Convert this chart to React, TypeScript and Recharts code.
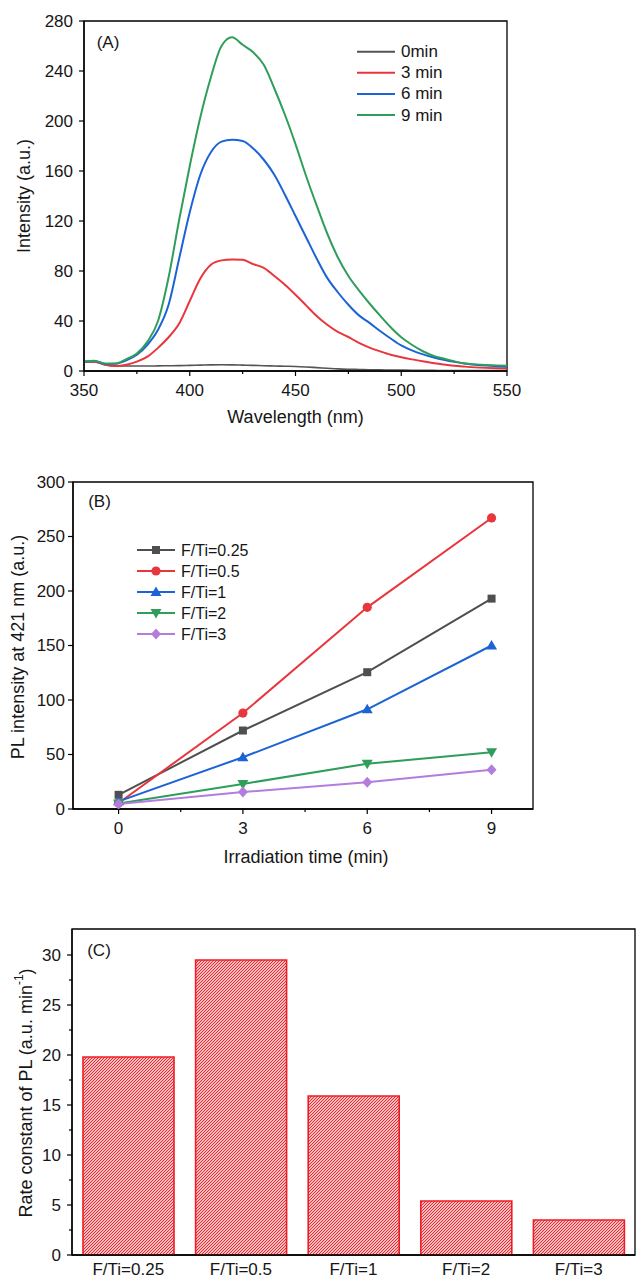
import React from 'react'
import { LineChart, Line, BarChart, Bar, XAxis, YAxis, Legend, Label, ReferenceArea } from 'recharts'

const FONT = '"Liberation Sans", Arial, Helvetica, sans-serif'
const INK = '#161616'
const AXIS = { stroke: '#000', strokeWidth: 1.3 }

// (A) PL spectra, every 5 nm
const wavelengths = [
  350, 355, 360, 365, 370, 375, 380, 385, 390, 395, 400, 405, 410, 415, 420, 425, 430, 435, 440, 445, 450,
  455, 460, 465, 470, 475, 480, 485, 490, 495, 500, 505, 510, 515, 520, 525, 530, 535, 540, 545, 550,
]
const pl0min = [
  7, 7.5, 5, 4, 4, 4, 4, 4.1, 4.2, 4.3, 4.5, 4.7, 4.9, 5, 4.9, 4.7, 4.5, 4.2, 4, 3.8, 3.6,
  3.2, 2.7, 2.2, 1.7, 1.4, 1.2, 1, 0.9, 0.8, 0.7, 0.6, 0.5, 0.5, 0.4, 0.4, 0.4, 0.3, 0.3, 0.3, 0.3,
]
const pl3min = [
  7.5, 7.5, 5, 4, 5, 7.5, 11.5, 18.5, 27, 38, 56, 74, 85, 88.5, 89.3, 89, 85.5, 82.5, 76, 69, 61,
  52.5, 44, 37, 31.3, 27.2, 22.5, 18.7, 15.7, 13, 11, 9.3, 7.8, 6.4, 5.2, 4.2, 3.5, 2.9, 2.5, 2.2, 2,
]
const pl6min = [
  7.5, 8, 5.6, 5.8, 8.5, 13, 21, 33, 53, 90, 127, 157, 175, 183.5, 185, 184, 178, 169, 157, 141, 124,
  107, 90, 74.5, 63, 53, 44.5, 38.5, 32, 26, 20.5, 16.5, 13.5, 11, 9, 7.3, 6, 5, 4.3, 3.8, 3.4,
]
const pl9min = [
  7.5, 8.3, 6, 6, 9.5, 14, 23.5, 40, 75, 121, 164, 203, 235, 260, 267, 261, 255, 245, 226, 205, 181.5,
  156, 132.5, 110, 91, 76, 64.5, 54, 44.3, 35, 27, 21, 16, 12.3, 10, 7.8, 6, 5.3, 4.8, 4.5, 4.2,
]
const spectrumNames = ['0min', '3 min', '6 min', '9 min']
const spectrumColors = ['#555555', '#e8363d', '#1c63d5', '#2f9e5b']
const spectrumKeys = ['t0', 't3', 't6', 't9']
const wavelengthTicks = [350, 375, 400, 425, 450, 475, 500, 525, 550]
const wavelengthMajors = [350, 400, 450, 500, 550]
const intensityTicks = [0, 40, 80, 120, 160, 200, 240, 280]

// (B) PL intensity at 421 nm vs time
const irradiationTimes = [0, 3, 6, 9]
const ratioNames = ['F/Ti=0.25', 'F/Ti=0.5', 'F/Ti=1', 'F/Ti=2', 'F/Ti=3']
const plRatio025 = [13, 72, 125.5, 193]
const plRatio05 = [5.5, 88, 185, 267]
const plRatio1 = [7, 47.5, 91.5, 150]
const plRatio2 = [5, 23, 41.5, 52]
const plRatio3 = [4.5, 15.5, 24.5, 36]
const ratioColors = ['#4f4f4f', '#e8363d', '#1c63d5', '#2f9e5b', '#b27ddf']
const ratioShapes = ['square', 'circle', 'triangle', 'triangleDown', 'diamond']
const ratioKeys = ['r025', 'r05', 'r1', 'r2', 'r3']
const timeTicks = [0, 1.5, 3, 4.5, 6, 7.5, 9]
const timeMajors = [0, 3, 6, 9]
const plTicks = [0, 50, 100, 150, 200, 250, 300]

// (C) rate constants
const rateConstants = [19.8, 29.5, 15.9, 5.4, 3.5]
const rateTicks = [0, 2.5, 5, 7.5, 10, 12.5, 15, 17.5, 20, 22.5, 25, 27.5, 30]
const rateMajors = [0, 5, 10, 15, 20, 25, 30]

const spectrumData = wavelengths.map((w, i) => ({
  w,
  t0: pl0min[i],
  t3: pl3min[i],
  t6: pl6min[i],
  t9: pl9min[i],
}))

const timeData = irradiationTimes.map((t, i) => ({
  t,
  r025: plRatio025[i],
  r05: plRatio05[i],
  r1: plRatio1[i],
  r2: plRatio2[i],
  r3: plRatio3[i],
}))

const rateData = ratioNames.map((name, i) => ({ name, k: rateConstants[i] }))

function bottomTick(majors: number[] | null, gap: number) {
  return function BottomTick(props: any) {
    const { x, y, payload } = props
    const major = !majors || majors.includes(payload.value)
    return (
      <g>
        {majors && (
          <line x1={x} x2={x} y1={y} y2={y + (major ? 5 : 3)} stroke="#000" strokeWidth={1.2} />
        )}
        {major && (
          <text x={x} y={y + gap} textAnchor="middle" dominantBaseline="central"
            fontSize={17} fontFamily={FONT} fill={INK}>
            {payload.value}
          </text>
        )}
      </g>
    )
  }
}

function leftTick(majors: number[], gap: number) {
  return function LeftTick(props: any) {
    const { x, y, payload } = props
    const major = majors.includes(payload.value)
    return (
      <g>
        <line x1={x} x2={x - (major ? 5 : 3)} y1={y} y2={y} stroke="#000" strokeWidth={1.2} />
        {major && (
          <text x={x - gap} y={y} textAnchor="end" dominantBaseline="central"
            fontSize={17} fontFamily={FONT} fill={INK}>
            {payload.value}
          </text>
        )}
      </g>
    )
  }
}

function plainText(x: number, y: number, text: React.ReactNode, size = 18) {
  return () => (
    <text x={x} y={y} textAnchor="middle" dominantBaseline="central" fontSize={size}
      fontFamily={FONT} fill={INK}>
      {text}
    </text>
  )
}

function verticalText(x: number, y: number, text: React.ReactNode, size = 18) {
  return () => (
    <text x={x} y={y} transform={`rotate(-90 ${x} ${y})`} textAnchor="middle"
      dominantBaseline="central" fontSize={size} fontFamily={FONT} fill={INK}>
      {text}
    </text>
  )
}

function Marker({ shape, cx, cy, color }: { shape: string; cx: number; cy: number; color: string }) {
  if (shape === 'square') return <rect x={cx - 4} y={cy - 4} width={8} height={8} fill={color} />
  if (shape === 'circle') return <circle cx={cx} cy={cy} r={4.6} fill={color} />
  if (shape === 'triangle')
    return <polygon points={`${cx},${cy - 5.5} ${cx + 5.5},${cy + 4} ${cx - 5.5},${cy + 4}`} fill={color} />
  if (shape === 'triangleDown')
    return <polygon points={`${cx},${cy + 5.5} ${cx + 5.5},${cy - 4} ${cx - 5.5},${cy - 4}`} fill={color} />
  return <polygon points={`${cx},${cy - 5.5} ${cx + 5},${cy} ${cx},${cy + 5.5} ${cx - 5},${cy}`} fill={color} />
}

function SpectrumLegend() {
  return (
    <svg width={120} height={95}>
      {spectrumNames.map((name, i) => {
        const y = 13.7 + i * 21.1
        return (
          <g key={name}>
            <line x1={7} x2={45} y1={y} y2={y} stroke={spectrumColors[i]} strokeWidth={2} />
            <text x={51} y={y} dominantBaseline="central" fontSize={17} fontFamily={FONT} fill={INK}>
              {name}
            </text>
          </g>
        )
      })}
    </svg>
  )
}

function RatioLegend() {
  return (
    <svg width={140} height={110}>
      {ratioNames.map((name, i) => {
        const y = 10 + i * 21
        return (
          <g key={name}>
            <line x1={7} x2={45} y1={y} y2={y} stroke={ratioColors[i]} strokeWidth={2} />
            <Marker shape={ratioShapes[i]} cx={26} cy={y} color={ratioColors[i]} />
            <text x={51} y={y} dominantBaseline="central" fontSize={16} fontFamily={FONT} fill={INK}>
              {name}
            </text>
          </g>
        )
      })}
    </svg>
  )
}

function SpectraChart() {
  return (
    <LineChart width={637} height={440} data={spectrumData}
      margin={{ top: 21, right: 130, bottom: 29, left: 24 }}>
      <XAxis dataKey="w" type="number" domain={[350, 550]} allowDataOverflow ticks={wavelengthTicks}
        interval={0} height={40} tickSize={0} tickMargin={0} tickLine={false} axisLine={AXIS}
        tick={bottomTick(wavelengthMajors, 19.7)}>
        <Label content={plainText(295.5, 416.7, 'Wavelength (nm)')} />
      </XAxis>
      <YAxis domain={[0, 280]} allowDataOverflow ticks={intensityTicks} interval={0} width={60}
        tickSize={0} tickMargin={0} tickLine={false} axisLine={AXIS} tick={leftTick(intensityTicks, 11)}>
        <Label content={verticalText(23.6, 196, 'Intensity (a.u.)')} />
      </YAxis>
      <ReferenceArea y1={0} y2={280} fill="none" stroke="#000" strokeWidth={1.3}>
        <Label content={plainText(108, 42.3, '(A)', 17)} />
      </ReferenceArea>
      {spectrumKeys.map((k, i) => (
        <Line key={k} dataKey={k} type="monotone" stroke={spectrumColors[i]}
          strokeWidth={i === 0 ? 1.6 : 2} dot={false} isAnimationActive={false} />
      ))}
      <Legend layout="vertical" align="center" verticalAlign="middle" content={() => <SpectrumLegend />}
        wrapperStyle={{ left: 350, top: 38, width: 120, height: 95 }} />
    </LineChart>
  )
}

function KineticsChart() {
  return (
    <LineChart width={637} height={440} data={timeData}
      margin={{ top: 42, right: 104, bottom: 31, left: 13 }}>
      <XAxis dataKey="t" type="number" domain={[-1.1, 10]} allowDataOverflow ticks={timeTicks}
        interval={0} height={40} tickSize={0} tickMargin={0} tickLine={false} axisLine={AXIS}
        tick={bottomTick(timeMajors, 19.7)}>
        <Label content={plainText(306, 416.7, 'Irradiation time (min)')} />
      </XAxis>
      <YAxis domain={[0, 300]} allowDataOverflow ticks={plTicks} interval={0} width={60}
        tickSize={0} tickMargin={0} tickLine={false} axisLine={AXIS} tick={leftTick(plTicks, 8)}>
        <Label content={verticalText(17.6, 207, 'PL intensity at 421 nm (a.u.)')} />
      </YAxis>
      <ReferenceArea y1={0} y2={300} fill="none" stroke="#000" strokeWidth={1.3}>
        <Label content={plainText(99.5, 61.7, '(B)', 17)} />
      </ReferenceArea>
      {ratioKeys.map((k, i) => (
        <Line key={k} dataKey={k} type="linear" stroke={ratioColors[i]} strokeWidth={2}
          isAnimationActive={false} activeDot={false}
          dot={(p: any) => (
            <Marker key={`${k}-${p.index}`} shape={ratioShapes[i]} cx={p.cx} cy={p.cy} color={ratioColors[i]} />
          )} />
      ))}
      <Legend layout="vertical" align="center" verticalAlign="middle" content={() => <RatioLegend />}
        wrapperStyle={{ left: 130, top: 100, width: 140, height: 110 }} />
    </LineChart>
  )
}

function RateChart() {
  return (
    <BarChart width={637} height={398} data={rateData}
      margin={{ top: 49, right: 2, bottom: 0, left: 12 }}>
      <defs>
        <pattern id="hatch" patternUnits="userSpaceOnUse" width={3} height={3}>
          <rect width={3} height={3} fill="#fff" />
          <path d="M0,3 L3,0 M-0.75,0.75 L0.75,-0.75 M2.25,3.75 L3.75,2.25"
            stroke="#ee1c24" strokeWidth={1.1} />
        </pattern>
      </defs>
      <XAxis dataKey="name" height={23} interval={0} tickSize={0} tickMargin={0} tickLine={false}
        axisLine={AXIS} tick={bottomTick(null, 14)} />
      <YAxis domain={[0, 32.6]} allowDataOverflow ticks={rateTicks} interval={0} width={60}
        tickSize={0} tickMargin={0} tickLine={false} axisLine={AXIS} tick={leftTick(rateMajors, 11)}>
        <Label content={verticalText(26, 213, (
          <>
            Rate constant of PL (a.u. min
            <tspan dy={-7} fontSize={12}>-1</tspan>
            <tspan dy={7}>)</tspan>
          </>
        ))} />
      </YAxis>
      <ReferenceArea y1={0} y2={32.6} fill="none" stroke="#000" strokeWidth={1.3}>
        <Label content={plainText(99, 70, '(C)', 17)} />
      </ReferenceArea>
      <Bar dataKey="k" fill="url(#hatch)" stroke="#ee1c24" strokeWidth={1.6} barSize={91}
        isAnimationActive={false} />
    </BarChart>
  )
}

export default function App() {
  return (
    <div style={{ position: 'absolute', left: 0, top: 0, width: 637, height: 1278, background: '#fff' }}>
      <div style={{ position: 'absolute', left: 0, top: 0 }}>
        <SpectraChart />
      </div>
      <div style={{ position: 'absolute', left: 0, top: 440 }}>
        <KineticsChart />
      </div>
      <div style={{ position: 'absolute', left: 0, top: 880 }}>
        <RateChart />
      </div>
    </div>
  )
}
